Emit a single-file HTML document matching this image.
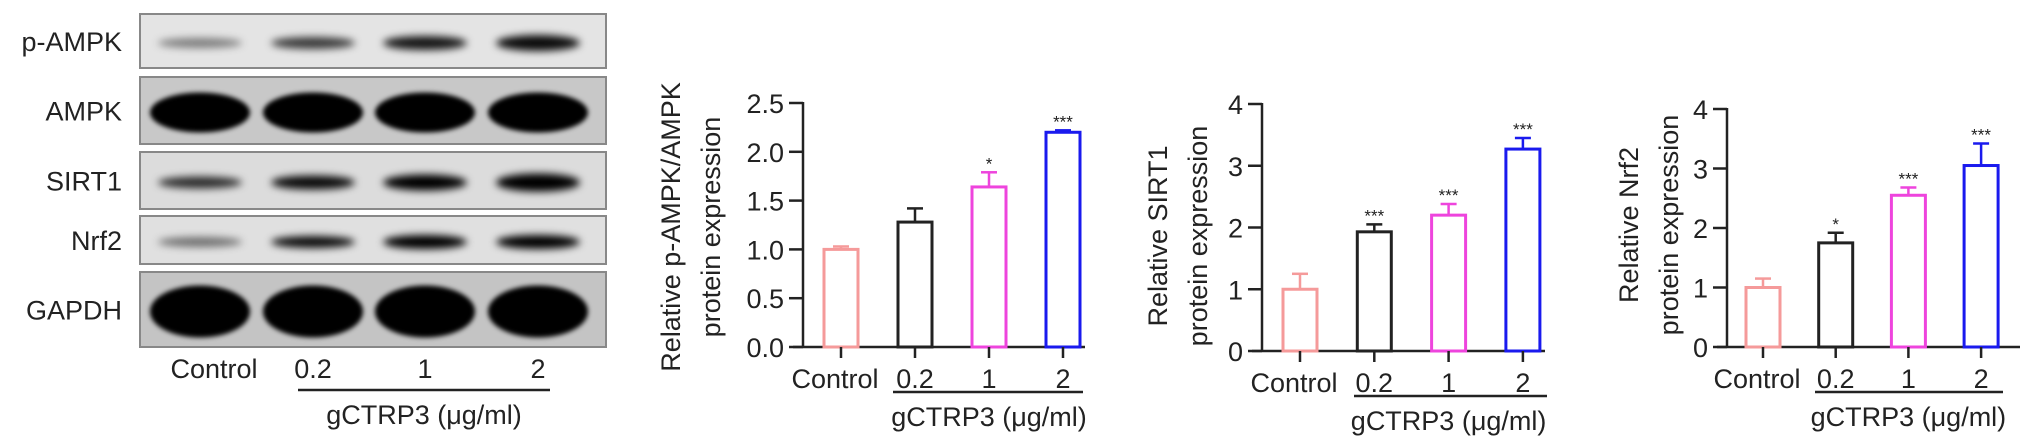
<!DOCTYPE html>
<html><head><meta charset="utf-8"><style>
body{margin:0;background:#fff}
svg{display:block;font-family:"Liberation Sans",Arial,sans-serif}
</style></head><body>
<svg id="fig" width="2032" height="448" viewBox="0 0 2032 448">
<defs>
<filter id="blur" x="-30%" y="-80%" width="160%" height="260%"><feGaussianBlur stdDeviation="4"/></filter>
<filter id="blur2" x="-30%" y="-80%" width="160%" height="260%"><feGaussianBlur stdDeviation="2.5"/></filter>
</defs>
<g id="blot"></g>
<g id="charts"></g>
</svg>
<script>
const NS="http://www.w3.org/2000/svg";
const svg=document.getElementById('fig');
const FS=27;
function mk(tag,attrs,parent,text){const e=document.createElementNS(NS,tag);for(const k in attrs)e.setAttribute(k,attrs[k]);if(text!==undefined)e.textContent=text;(parent||svg).appendChild(e);return e;}

// ---- Western blot ----
const blotRows=["p-AMPK","AMPK","SIRT1","Nrf2","GAPDH"];
const lanes=["Control","0.2","1","2"];
const blotBg=["#e4e4e4","#c8c8c8","#dcdcdc","#e0e0e0","#c4c4c4"];
const bandIntensity=[[0.45,0.75,0.9,0.95],[1,1,1,1],[0.8,0.95,1,1],[0.5,0.95,1,1],[1,1,1,1]];
const bandThick=[[10,12,14,16],[40,40,40,40],[12,14,16,18],[10,12,14,14],[52,52,52,52]];
const rowY=[[14,68],[77,144],[152,209],[216,264],[272,347]];
const laneX=[200,313,425,538];
const blot=document.getElementById('blot');
blotRows.forEach((r,i)=>{
  const g=mk('g',{},blot);
  
  
  mk('rect',{x:140,y:rowY[i][0],width:466,height:rowY[i][1]-rowY[i][0],fill:blotBg[i],stroke:'#888','stroke-width':2},g);
  const cy=(rowY[i][0]+rowY[i][1])/2;
  lanes.forEach((l,j)=>{
    const b=mk('ellipse',{cx:laneX[j],cy:cy+2,rx:i==1||i==4?50:42,ry:bandThick[i][j]/2,fill:'#000','fill-opacity':bandIntensity[i][j],filter:(i==1||i==4)?'url(#blur2)':'url(#blur)'},g);
    
    
  });
  const t=mk('text',{x:122,y:cy+10,'text-anchor':'end','font-size':FS,fill:'#222'},blot,r);
  
  
});
lanes.forEach((l,j)=>{
  const t=mk('text',{x:laneX[j]+(j==0?14:0),y:378,'text-anchor':'middle','font-size':FS,fill:'#222'},blot,l);
  
  
});
mk('line',{x1:298,x2:550,y1:390,y2:390,stroke:'#222','stroke-width':2.5},blot);
const bt=mk('text',{x:424,y:424,'text-anchor':'middle','font-size':FS,fill:'#222'},blot,'gCTRP3 (μg/ml)');



// ---- Bar charts data ----
const categories=["Control","0.2","1","2"];
const colors=["#f59a9a","#222222","#ee44dd","#1a1aee"];
const ampkMeans=[1.0,1.28,1.64,2.2];
const ampkErr=[0.03,0.14,0.15,0.02];
const ampkStars=["","","*","***"];
const ampkTicks=["0.0","0.5","1.0","1.5","2.0","2.5"];
const sirtMeans=[1.0,1.93,2.2,3.27];
const sirtErr=[0.25,0.12,0.18,0.18];
const sirtStars=["","***","***","***"];
const sirtTicks=["0","1","2","3","4"];
const nrfMeans=[1.0,1.75,2.55,3.05];
const nrfErr=[0.15,0.17,0.13,0.37];
const nrfStars=["","*","***","***"];
const nrfTicks=["0","1","2","3","4"];

function chart(o){
  const g=mk('g',{},document.getElementById('charts'));
  
  
  const ymax=parseFloat(o.ticks[o.ticks.length-1]);
  const y=v=>o.y0-(v/ymax)*(o.y0-o.ytop);
  const x=i=>o.x0+o.step*i;
  mk('line',{x1:o.ax,x2:o.ax,y1:o.ytop-1,y2:o.y0+1,stroke:'#222','stroke-width':2.5},g);
  mk('line',{x1:o.ax-10,x2:o.xend,y1:o.y0,y2:o.y0,stroke:'#222','stroke-width':2.5},g);
  o.ticks.forEach(t=>{
    const v=parseFloat(t);
    mk('line',{x1:o.ax-14,x2:o.ax,y1:y(v),y2:y(v),stroke:'#222','stroke-width':2.5},g);
    const tl=mk('text',{x:o.ax-19,y:y(v)+10,'text-anchor':'end','font-size':FS,fill:'#222'},g,t);
    
    
  });
  o.means.forEach((m,i)=>{
    const cx=x(i);
    const top=y(m);
    mk('line',{x1:cx,x2:cx,y1:y(m+o.err[i]),y2:top,stroke:colors[i],'stroke-width':2.5},g);
    mk('line',{x1:cx-8,x2:cx+8,y1:y(m+o.err[i]),y2:y(m+o.err[i]),stroke:colors[i],'stroke-width':2.5},g);
    const b=mk('rect',{x:cx-17,y:top,width:34,height:o.y0-top,fill:'#fff',stroke:colors[i],'stroke-width':3},g);
    
    
    if(o.stars[i]){
      const s=mk('text',{x:cx,y:y(m+o.err[i])-3,'text-anchor':'middle','font-size':17,fill:'#222'},g,o.stars[i]);
      
      
    }
    mk('line',{x1:cx,x2:cx,y1:o.y0,y2:o.y0+11,stroke:'#222','stroke-width':2.5},g);
    const xl=mk('text',{x:cx+(i==0?-6:0),y:o.y0+41,'text-anchor':'middle','font-size':FS,fill:'#222'},g,categories[i]);
    
    
  });
  mk('line',{x1:o.ul[0],x2:o.ul[1],y1:o.y0+45,y2:o.y0+45,stroke:'#222','stroke-width':2.5},g);
  const xt=mk('text',{x:(x(1)+x(3))/2,y:o.y0+79,'text-anchor':'middle','font-size':FS,fill:'#222'},g,'gCTRP3 (μg/ml)');
  
  
  const yt=mk('text',{transform:`translate(${o.tx},${o.ty}) rotate(-90)`,'text-anchor':'middle','font-size':FS,fill:'#222'},g);
  
  
  mk('tspan',{x:0,y:0},yt,o.title1);
  mk('tspan',{x:0,y:40},yt,'protein expression');
}
chart({name:'chart-p-ampk',means:ampkMeans,err:ampkErr,stars:ampkStars,ticks:ampkTicks,ax:803,ytop:103,y0:347,x0:841,step:74,xend:1085,ul:[893,1083],tx:680,ty:227,title1:'Relative p-AMPK/AMPK'});
chart({name:'chart-sirt1',means:sirtMeans,err:sirtErr,stars:sirtStars,ticks:sirtTicks,ax:1262,ytop:104,y0:351,x0:1300,step:74.3,xend:1545,ul:[1354,1547],tx:1167,ty:236,title1:'Relative SIRT1'});
chart({name:'chart-nrf2',means:nrfMeans,err:nrfErr,stars:nrfStars,ticks:nrfTicks,ax:1727,ytop:109,y0:347,x0:1763,step:72.7,xend:2020,ul:[1815,2003],tx:1638,ty:225,title1:'Relative Nrf2'});
</script>
</body></html>
